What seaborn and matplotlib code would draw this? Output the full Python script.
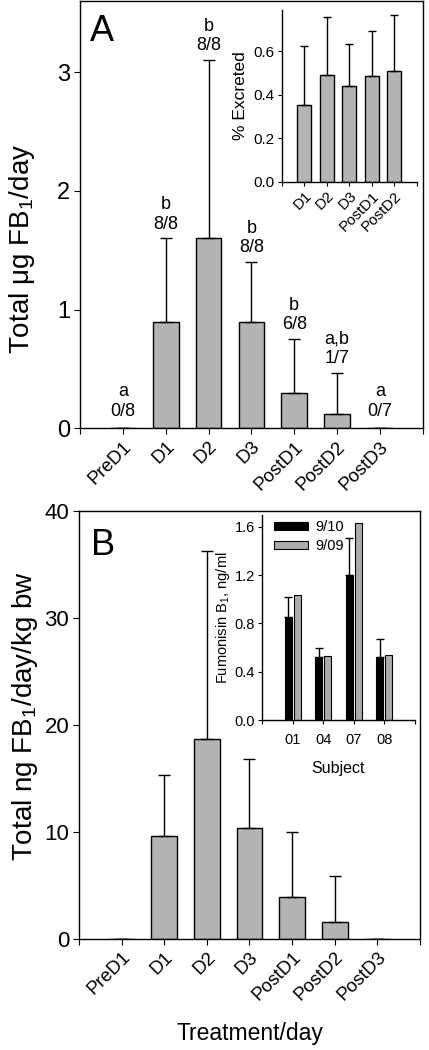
import numpy as np
import pandas as pd
import matplotlib
matplotlib.use('Agg')
import matplotlib.pyplot as plt
import seaborn as sns

# Datos panel A (µg FB1/día)
dias = ['PreD1', 'D1', 'D2', 'D3', 'PostD1', 'PostD2', 'PostD3']
total_ug = [0, 0.9, 1.6, 0.9, 0.3, 0.12, 0]
err_ug = [0, 0.7, 1.5, 0.5, 0.45, 0.35, 0]
letras = ['a', 'b', 'b', 'b', 'b', 'a,b', 'a']
positivos = ['0/8', '8/8', '8/8', '8/8', '6/8', '1/7', '0/7']

# Inset A (% excretado)
dias_exc = ['D1', 'D2', 'D3', 'PostD1', 'PostD2']
pct_exc = [0.355, 0.49, 0.44, 0.485, 0.51]
err_exc = [0.27, 0.27, 0.195, 0.21, 0.255]

# Datos panel B (ng FB1/día/kg pc)
total_ng = [0, 9.6, 18.7, 10.4, 3.9, 1.6, 0]
err_ng = [0, 5.7, 17.6, 6.4, 6.1, 4.3, 0]

# Inset B (fumonisina B1)
sujetos = ['01', '04', '07', '08']
fb1_910 = [0.855, 0.52, 1.2, 0.52]
err_910 = [0.16, 0.075, 0.31, 0.155]
fb1_909 = [1.035, 0.53, 1.633, 0.538]

gris = '#b4b4b4'

sns.set_style('ticks')
plt.rcParams['font.family'] = ['Liberation Sans', 'DejaVu Sans']
plt.rcParams['mathtext.fontset'] = 'custom'
plt.rcParams['mathtext.rm'] = 'Liberation Sans'
plt.rcParams['axes.linewidth'] = 1.0
plt.rcParams['axes.edgecolor'] = 'black'
plt.rcParams['text.color'] = 'black'
plt.rcParams['axes.labelcolor'] = 'black'
plt.rcParams['xtick.color'] = 'black'
plt.rcParams['ytick.color'] = 'black'
plt.rcParams['xtick.direction'] = 'out'
plt.rcParams['ytick.direction'] = 'out'

fig = plt.figure(figsize=(4.29, 10.5), dpi=100)

# ---------- Panel A ----------
axA = fig.add_axes([0.1865, 0.592, 0.799, 0.407])
sns.barplot(x=dias, y=total_ug, order=dias, color=gris, edgecolor='black',
            linewidth=1.0, width=0.6, saturation=1, ax=axA)
axA.errorbar(np.arange(len(dias)), total_ug, yerr=[np.zeros(len(dias)), err_ug],
             fmt='none', ecolor='black', elinewidth=1.0, capsize=4, capthick=1.0)
for i in range(len(dias)):
    top = total_ug[i] + err_ug[i]
    off = 0.05 if top > 0 else 0.07
    axA.text(i, top + off, letras[i] + '\n' + positivos[i], ha='center', va='bottom',
             fontsize=13, linespacing=1.2)
axA.set_xlim(-1, 7)
axA.set_ylim(0, 3.6)
axA.set_xticks(range(-1, 8))
axA.set_xticklabels([''] + dias + [''], rotation=45, ha='right', rotation_mode='anchor', fontsize=13.5)
axA.set_yticks([0, 1, 2, 3])
axA.tick_params(axis='y', labelsize=17, length=4, pad=3)
axA.tick_params(axis='x', length=4, pad=3)
axA.set_ylabel('Total μg FB$_1$/day', fontsize=20)
axA.yaxis.set_label_coords(-0.125, 0.42)
axA.set_xlabel('')
axA.text(0.03, 0.97, 'A', transform=axA.transAxes, fontsize=26, va='top', ha='left')

# Inset A
axA2 = fig.add_axes([0.657, 0.8267, 0.315, 0.1638])
sns.barplot(x=dias_exc, y=pct_exc, order=dias_exc, color=gris, edgecolor='black',
            linewidth=1.0, width=0.62, saturation=1, ax=axA2)
axA2.errorbar(np.arange(len(dias_exc)), pct_exc, yerr=[np.zeros(len(dias_exc)), err_exc],
              fmt='none', ecolor='black', elinewidth=1.0, capsize=3, capthick=1.0)
axA2.set_xlim(-1, 5)
axA2.set_ylim(0, 0.79)
axA2.set_yticks([0, 0.2, 0.4, 0.6])
axA2.set_yticklabels(['0.0', '0.2', '0.4', '0.6'])
axA2.set_xticks(range(-1, 6))
axA2.set_xticklabels([''] + dias_exc + [''], rotation=45, ha='right', rotation_mode='anchor', fontsize=11)
axA2.tick_params(axis='y', labelsize=11, length=3, pad=2)
axA2.tick_params(axis='x', length=3, pad=2)
axA2.set_ylabel('% Excreted', fontsize=12.5)
axA2.yaxis.set_label_coords(-0.25, 0.5)
axA2.set_xlabel('')
sns.despine(ax=axA2)
axA2.patch.set_alpha(0)

# ---------- Panel B ----------
axB = fig.add_axes([0.184, 0.1057, 0.795, 0.4076])
sns.barplot(x=dias, y=total_ng, order=dias, color=gris, edgecolor='black',
            linewidth=1.0, width=0.6, saturation=1, ax=axB)
axB.errorbar(np.arange(len(dias)), total_ng, yerr=[np.zeros(len(dias)), err_ng],
             fmt='none', ecolor='black', elinewidth=1.0, capsize=4, capthick=1.0)
axB.set_xlim(-1, 7)
axB.set_ylim(0, 40)
axB.set_xticks(range(-1, 8))
axB.set_xticklabels([''] + dias + [''], rotation=45, ha='right', rotation_mode='anchor', fontsize=13.5)
axB.set_yticks([0, 10, 20, 30, 40])
axB.tick_params(axis='y', labelsize=16, length=4, pad=3)
axB.tick_params(axis='x', length=4, pad=3)
axB.set_ylabel('Total ng FB$_1$/day/kg bw', fontsize=20)
axB.yaxis.set_label_coords(-0.115, 0.52)
axB.set_xlabel('Treatment/day', fontsize=16.5)
axB.xaxis.set_label_coords(0.5, -0.195)
axB.text(0.035, 0.96, 'B', transform=axB.transAxes, fontsize=26, va='top', ha='left')

# Inset B
df_fb = pd.DataFrame({
    'Subject': sujetos * 2,
    'FB1': fb1_910 + fb1_909,
    'Fecha': ['9/10'] * 4 + ['9/09'] * 4,
})
axB2 = fig.add_axes([0.611, 0.314, 0.356, 0.196])
sns.barplot(data=df_fb, x='Subject', y='FB1', hue='Fecha', order=sujetos,
            palette=['black', '#ababab'], edgecolor='black', linewidth=0.8,
            width=0.6, gap=0.25, saturation=1, errorbar=None, ax=axB2)
barras_negras = axB2.patches[:len(sujetos)]
xs = [p.get_x() + p.get_width() / 2 for p in barras_negras]
axB2.errorbar(xs, fb1_910, yerr=[np.zeros(len(sujetos)), err_910],
              fmt='none', ecolor='black', elinewidth=1.0, capsize=3, capthick=1.0)
axB2.set_xlim(-1, 4)
axB2.set_ylim(0, 1.7)
axB2.set_yticks([0, 0.4, 0.8, 1.2, 1.6])
axB2.set_yticklabels(['0.0', '0.4', '0.8', '1.2', '1.6'])
axB2.set_xticks(range(-1, 5))
axB2.set_xticklabels([''] + sujetos + [''], fontsize=10.5)
axB2.tick_params(axis='y', labelsize=10.5, length=3, pad=2)
axB2.tick_params(axis='x', length=3, pad=6)
axB2.set_ylabel('Fumonisin B$_1$, ng/ml', fontsize=10.5)
axB2.yaxis.set_label_coords(-0.2, 0.5)
axB2.set_xlabel('Subject', fontsize=11.5)
axB2.xaxis.set_label_coords(0.5, -0.2)
axB2.legend(title=None, frameon=False, loc='upper left', fontsize=10.5,
            handlelength=2.3, handleheight=0.45, handletextpad=0.5,
            labelspacing=0.35, borderaxespad=0.0, bbox_to_anchor=(0.04, 1.0))
sns.despine(ax=axB2)
axB2.patch.set_alpha(0)

fig.savefig('out.png', dpi=100)
